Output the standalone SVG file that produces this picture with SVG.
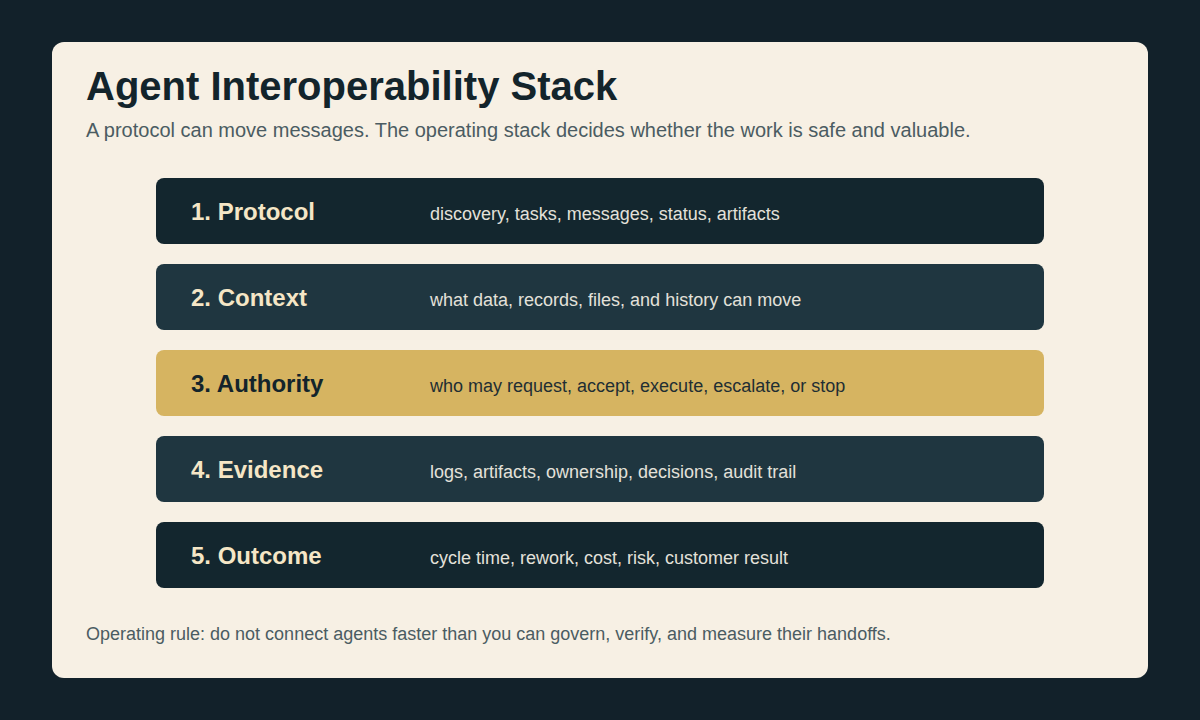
<svg xmlns="http://www.w3.org/2000/svg" width="1200" height="720" viewBox="0 0 1200 720">
<style>
.t{font-family:"Liberation Sans",Arial,sans-serif}
.title{font-size:40px;font-weight:bold;fill:#13242b}
.sub{font-size:20px;fill:#4b5c62}
.lbl{font-size:24px;font-weight:bold;fill:#f5e6c6}
.desc{font-size:18px;fill:#e3e1da}
.dark{fill:#13262e}
.mid{fill:#1f3640}
.gold{fill:#d6b461}
.gl{fill:#13242b}
.gd{fill:#1f2e33}
.foot{font-size:18px;fill:#4b5c62}
</style>
<rect width="1200" height="720" fill="#12212a"/>
<rect x="52" y="42" width="1096" height="636" rx="12" fill="#f7f0e4"/>
<text class="t title" x="86" y="100">Agent Interoperability Stack</text>
<text class="t sub" x="86" y="137">A protocol can move messages. The operating stack decides whether the work is safe and valuable.</text>
<g id="layer1">
<rect class="dark" x="156" y="178" width="888" height="66" rx="8"/>
<text class="t lbl" x="191" y="220">1. Protocol</text>
<text class="t desc" x="430" y="220">discovery, tasks, messages, status, artifacts</text>
</g>
<g id="layer2">
<rect class="mid" x="156" y="264" width="888" height="66" rx="8"/>
<text class="t lbl" x="191" y="306">2. Context</text>
<text class="t desc" x="430" y="306">what data, records, files, and history can move</text>
</g>
<g id="layer3">
<rect class="gold" x="156" y="350" width="888" height="66" rx="8"/>
<text class="t lbl gl" x="191" y="392">3. Authority</text>
<text class="t desc gd" x="430" y="392">who may request, accept, execute, escalate, or stop</text>
</g>
<g id="layer4">
<rect class="mid" x="156" y="436" width="888" height="66" rx="8"/>
<text class="t lbl" x="191" y="478">4. Evidence</text>
<text class="t desc" x="430" y="478">logs, artifacts, ownership, decisions, audit trail</text>
</g>
<g id="layer5">
<rect class="dark" x="156" y="522" width="888" height="66" rx="8"/>
<text class="t lbl" x="191" y="564">5. Outcome</text>
<text class="t desc" x="430" y="564">cycle time, rework, cost, risk, customer result</text>
</g>
<g id="connectors"/>
<text class="t foot" x="86" y="640">Operating rule: do not connect agents faster than you can govern, verify, and measure their handoffs.</text>
</svg>
